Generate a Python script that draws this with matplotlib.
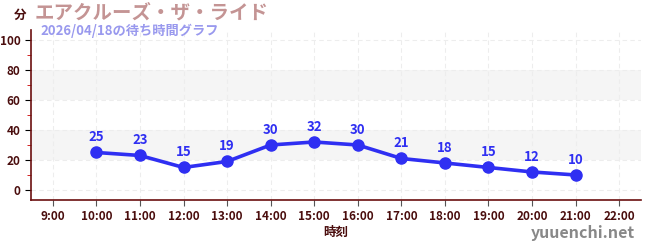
import matplotlib
matplotlib.use("Agg")
import matplotlib.pyplot as plt

plt.rcParams['font.family'] = ['Noto Sans CJK JP', 'DejaVu Sans']

# data
hours = [10, 11, 12, 13, 14, 15, 16, 17, 18, 19, 20, 21]
waits = [25, 23, 15, 19, 30, 32, 30, 21, 18, 15, 12, 10]
tick_hours = list(range(9, 23))
tick_labels = [f"{h}:00" for h in tick_hours]

title = "エアクルーズ・ザ・ライド"
subtitle = "2026/04/18の待ち時間グラフ"

dark = "#4a0d0d"
spine = "#6b0f0f"
blue = "#2f2ff2"

fig = plt.figure(figsize=(6.5, 2.5), dpi=100)
ax = fig.add_axes([31/650, 50/250, 610/650, 170/250])

ax.set_xlim(8.5, 22.5)
ax.set_ylim(-6.7, 106.7)

# gray bands
for lo, hi in [(20, 40), (60, 80)]:
    ax.axhspan(lo, hi, color="#f5f5f5", zorder=0, lw=0)

ax.set_xticks(tick_hours)
ax.set_xticklabels(tick_labels)
ax.set_yticks(range(0, 101, 20))
ax.set_yticks(range(10, 101, 20), minor=True)
ax.grid(True, which="major", color="#ededed", ls=(0, (4, 3)), lw=0.8, zorder=0)

ax.plot(hours, waits, color=blue, lw=2.6, marker="o", ms=8, zorder=3)
for h, w in zip(hours, waits):
    ax.annotate(str(w), (h, w), xytext=(0, 6), textcoords="offset points",
                ha="center", va="bottom", color=blue, fontsize=9.5, fontweight="bold")

for s in ["top", "right"]:
    ax.spines[s].set_visible(False)
ax.spines["left"].set_color(spine)
ax.spines["bottom"].set_color(spine)
ax.spines["left"].set_linewidth(1.2)
ax.spines["bottom"].set_linewidth(1.2)

ax.tick_params(axis="x", colors="#555555", labelcolor=dark, labelsize=8.5, length=4)
ax.tick_params(axis="y", which="major", colors="#000000", labelcolor=dark, labelsize=8.5, length=4)
ax.tick_params(axis="y", which="minor", colors="#cc0000", length=3)
for lbl in ax.get_xticklabels() + ax.get_yticklabels():
    lbl.set_fontweight("bold")

fig.text(336/650, 1 - 232/250, "時刻", ha="center", va="center", color=dark,
         fontsize=9, fontweight="bold")
fig.text(20/650, 1 - 15/250, "分", ha="center", va="center", color=dark,
         fontsize=9, fontweight="bold")
fig.text(35/650, 1 - 13/250, title, ha="left", va="center", color="#c49494",
         fontsize=14, fontweight="bold")
fig.text(40/650, 1 - 31/250, subtitle, ha="left", va="center", color="#9999ee",
         fontsize=9.5, fontweight="bold")
fig.text(635/650, 1 - 233/250, "yuuenchi.net", ha="right", va="center",
         color="#888888", fontsize=11.5, fontweight="bold")

fig.savefig("out.png", dpi=100)
